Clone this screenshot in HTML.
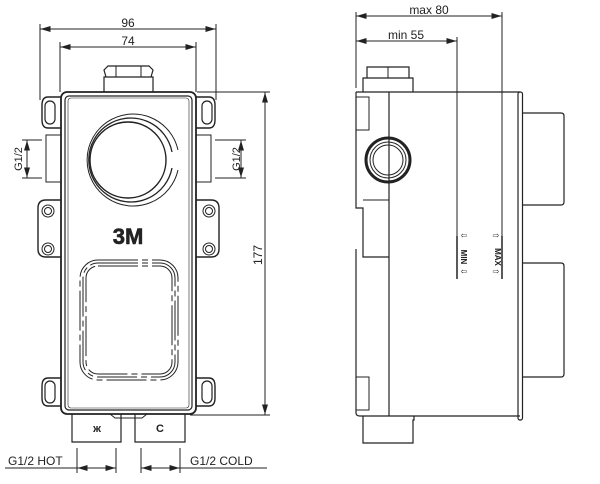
<!DOCTYPE html>
<html><head><meta charset="utf-8"><style>html,body{margin:0;padding:0;background:#fff}svg{display:block}text{font-family:"Liberation Sans",sans-serif;fill:#222}</style></head>
<body>
<svg width="600" height="484" viewBox="0 0 600 484" xmlns="http://www.w3.org/2000/svg">
<defs>
<marker id="a" viewBox="0 0 10 6" refX="10" refY="3" markerWidth="10" markerHeight="6" orient="auto-start-reverse" markerUnits="userSpaceOnUse"><path d="M0,0L10,3L0,6z" fill="#222"/></marker>
</defs>
<g stroke="#222" fill="none" stroke-width="1">
<line x1="40" y1="24" x2="40" y2="100"/><line x1="216" y1="24" x2="216" y2="100"/>
<line x1="40.5" y1="29" x2="215.5" y2="29" marker-start="url(#a)" marker-end="url(#a)"/>
<line x1="60" y1="42" x2="60" y2="92"/><line x1="196" y1="42" x2="196" y2="92"/>
<line x1="60.5" y1="47" x2="195.5" y2="47" marker-start="url(#a)" marker-end="url(#a)"/>
<path d="M104,92V77H153V92" stroke-width="1.2"/><path d="M106,77L104,70L108,66H149L153,70L151,77" stroke-width="1.2"/><line x1="116" y1="66" x2="116" y2="77"/><line x1="141" y1="66" x2="141" y2="77"/>
<rect x="61" y="92" width="135" height="322" rx="6" stroke-width="1.8"/>
<rect x="65" y="96" width="127" height="314" rx="4" stroke-width="1.2"/>
<rect x="68" y="98" width="121" height="310" rx="3" stroke-width="0.6"/>
<path d="M61,97H48Q42,97 42,105V120Q42,128 48,128H61" stroke-width="1.4"/><rect x="45" y="101" width="10" height="23" rx="5" stroke-width="1.2"/>
<path d="M196,97H209Q215,97 215,105V120Q215,128 209,128H196" stroke-width="1.4"/><rect x="202" y="101" width="10" height="23" rx="5" stroke-width="1.2"/>
<path d="M61,378H48Q42,378 42,386V398Q42,406 48,406H61" stroke-width="1.4"/><rect x="45" y="381" width="10" height="22" rx="5" stroke-width="1.2"/>
<path d="M196,378H209Q215,378 215,386V398Q215,406 209,406H196" stroke-width="1.4"/><rect x="202" y="381" width="10" height="22" rx="5" stroke-width="1.2"/>
<path d="M61,200H46Q38,200 38,208V249Q38,257 46,257H61" stroke-width="1.4"/>
<circle cx="48" cy="211" r="6"/><circle cx="48" cy="211" r="3.5"/><circle cx="48" cy="249" r="6"/><circle cx="48" cy="249" r="3.5"/>
<path d="M196,200H211Q219,200 219,208V249Q219,257 211,257H196" stroke-width="1.4"/>
<circle cx="209" cy="211" r="6"/><circle cx="209" cy="211" r="3.5"/><circle cx="209" cy="249" r="6"/><circle cx="209" cy="249" r="3.5"/>
<path d="M61,135H46V182H61"/><path d="M196,135H211V182H196"/>
<line x1="22" y1="140" x2="42" y2="140"/><line x1="22" y1="178" x2="42" y2="178"/>
<line x1="27" y1="140.5" x2="27" y2="177.5" marker-start="url(#a)" marker-end="url(#a)"/>
<line x1="215" y1="140" x2="246" y2="140"/><line x1="215" y1="178" x2="246" y2="178"/>
<line x1="241" y1="140.5" x2="241" y2="177.5" marker-start="url(#a)" marker-end="url(#a)"/>
<path d="M178,150A46,46 0 1 0 178,170"/>
<path d="M172,152A42,42 0 1 0 172,168" stroke-width="1.3"/>
<circle cx="128" cy="160" r="38" stroke-width="1.4"/>
<rect x="80" y="260" width="98" height="120" rx="18" stroke-dasharray="40 4 6 4"/>
<rect x="83" y="263" width="92" height="114" rx="15" stroke-dasharray="40 4 6 4"/>
<rect x="86" y="266" width="86" height="108" rx="12" stroke-dasharray="40 4 6 4"/>
<path d="M72,414V442H121V414" stroke-width="1.2"/><path d="M135,414V442H185V414" stroke-width="1.2"/>
<path d="M110,414L115,418H142L147,414"/>
<line x1="77" y1="448" x2="77" y2="473"/><line x1="116" y1="448" x2="116" y2="473"/>
<line x1="141" y1="448" x2="141" y2="473"/><line x1="180" y1="448" x2="180" y2="473"/>
<line x1="5" y1="468" x2="77" y2="468"/><line x1="77.5" y1="468" x2="115.5" y2="468" marker-start="url(#a)" marker-end="url(#a)"/>
<line x1="141.5" y1="468" x2="179.5" y2="468" marker-start="url(#a)" marker-end="url(#a)"/><line x1="180" y1="468" x2="267" y2="468"/>
<line x1="197" y1="92" x2="270" y2="92"/><line x1="190" y1="415" x2="270" y2="415"/>
<line x1="265" y1="92.5" x2="265" y2="414.5" marker-start="url(#a)" marker-end="url(#a)"/>

<line x1="356" y1="12" x2="356" y2="88"/><line x1="502" y1="12" x2="502" y2="278"/><line x1="457" y1="37" x2="457" y2="278"/>
<line x1="356.5" y1="16" x2="501.5" y2="16" marker-start="url(#a)" marker-end="url(#a)"/>
<line x1="356.5" y1="41" x2="456.5" y2="41" marker-start="url(#a)" marker-end="url(#a)"/>
<path d="M363,92V78H413V92" stroke-width="1.2"/><path d="M367,78V67H409V78" stroke-width="1.2"/><line x1="388" y1="67" x2="388" y2="78"/>
<path d="M356,92H520" stroke-width="1.3"/><path d="M363,416H520" stroke-width="1.3"/>
<path d="M356,92V208H363V257H389" stroke-width="1.2"/><path d="M356,249V413Q356,416 360,416H363" stroke-width="1.2"/>
<path d="M363,200H389"/>
<line x1="389" y1="92" x2="389" y2="416" stroke-width="1.2"/>
<rect x="518" y="92" width="4.5" height="328" rx="2" stroke-width="1.2"/>
<path d="M356,97H369V130H356"/><path d="M356,377H369V410H356"/>
<path d="M363,416V443H413V420H414V416" stroke-width="1.2"/>
<path d="M523,113H561Q564,113 564,116V202Q564,205 561,205H523" stroke-width="1.2"/>
<path d="M523,263H561Q564,263 564,266V374Q564,377 561,377H523" stroke-width="1.2"/>
<circle cx="388" cy="160" r="22" stroke-width="3"/><circle cx="388" cy="160" r="18"/><circle cx="388" cy="160" r="15"/>
<line x1="457" y1="236" x2="457" y2="279" stroke-width="1.5"/><line x1="502" y1="236" x2="502" y2="279" stroke-width="1.5"/>
</g>
<text x="128" y="27" font-size="12" text-anchor="middle">96</text>
<text x="128" y="45" font-size="12" text-anchor="middle">74</text>
<text transform="translate(22,159) rotate(-90)" font-size="11" text-anchor="middle">G1/2</text>
<text transform="translate(240,159) rotate(-90)" font-size="11" text-anchor="middle">G1/2</text>
<text x="128" y="244" font-size="22" font-weight="bold" text-anchor="middle" style="fill:#222;stroke:#222;stroke-width:0.6">3M</text>
<text transform="translate(262,255) rotate(-90)" font-size="12" text-anchor="middle">177</text>
<text x="97" y="432" font-size="11" font-weight="bold" text-anchor="middle">ж</text>
<text x="160" y="432" font-size="11" font-weight="bold" text-anchor="middle">C</text>
<text x="8" y="465" font-size="12">G1/2 HOT</text>
<text x="190" y="465" font-size="12">G1/2 COLD</text>
<text x="429" y="14" font-size="12" text-anchor="middle">max  80</text>
<text x="406" y="39" font-size="12" text-anchor="middle">min  55</text>
<text transform="translate(461,257) rotate(90)" font-size="8" font-weight="bold" text-anchor="middle">MIN</text>
<text transform="translate(495,257) rotate(90)" font-size="8" font-weight="bold" text-anchor="middle">MAX</text>
<text x="464" y="238" font-size="8" text-anchor="middle">⇦</text><text x="464" y="274" font-size="8" text-anchor="middle">⇦</text>
<text x="496" y="238" font-size="8" text-anchor="middle">⇨</text><text x="496" y="274" font-size="8" text-anchor="middle">⇨</text>
</svg>
</body></html>
